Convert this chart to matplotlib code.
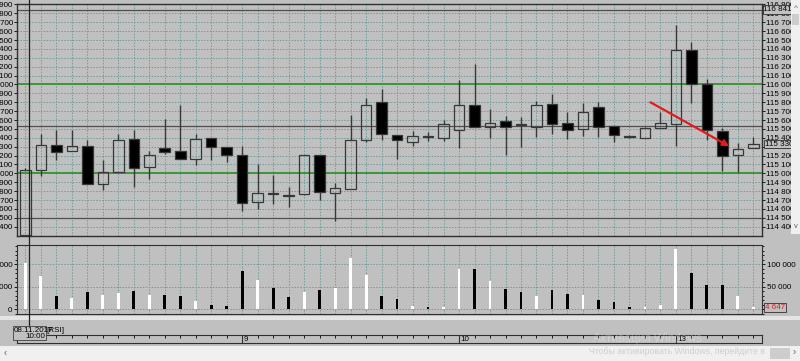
import numpy as np
import matplotlib
matplotlib.use("Agg")
import matplotlib.pyplot as plt
from matplotlib.patches import Rectangle
from matplotlib.ticker import MultipleLocator, FuncFormatter

# hourly candles 08.11.2017 - 13.11.2017, 10:00..23:00
day_labels = ["9", "10", "13"]
day_start = [14, 28, 42]

opens = [114310, 115040, 115320, 115250, 115305, 114875, 115020, 115385, 115075, 115285,
         115255, 115165, 115395, 115295, 115210, 114675, 114780, 114760, 114765, 115210,
         114775, 114820, 115380, 115805, 115435, 115355, 115420, 115395, 115490, 115765,
         115525, 115590, 115550, 115525, 115780, 115570, 115500, 115745, 115535, 115420,
         115400, 115510, 115555, 116390, 116000, 115480, 115210, 115290]
highs = [115060, 115440, 115490, 115490, 115375, 115145, 115440, 115490, 115255, 115615,
         115765, 115440, 115395, 115295, 115310, 115110, 114980, 114845, 115210, 115210,
         114890, 115655, 115850, 115950, 115435, 115480, 115470, 115600, 116045, 116235,
         115720, 115645, 115635, 115815, 115890, 115695, 115795, 115805, 115535, 115430,
         115525, 115685, 116670, 116475, 116065, 115510, 115340, 115405]
lows = [114300, 114970, 115155, 115250, 114875, 114810, 115020, 114850, 114940, 115220,
        115165, 115095, 115155, 115125, 114580, 114595, 114655, 114625, 114760, 114705,
        114465, 114820, 115355, 115370, 115165, 115305, 115360, 115360, 115285, 115525,
        115395, 115210, 115300, 115405, 115445, 115385, 115425, 115405, 115350, 115400,
        115400, 115510, 115310, 115795, 115370, 115025, 115015, 115290]
closes = [115040, 115320, 115245, 115305, 114875, 115020, 115375, 115065, 115210, 115245,
          115165, 115385, 115300, 115210, 114670, 114775, 114770, 114750, 115210, 114790,
          114830, 115370, 115770, 115445, 115370, 115415, 115410, 115555, 115765, 115525,
          115570, 115525, 115540, 115765, 115555, 115490, 115690, 115525, 115435, 115405,
          115510, 115570, 116385, 116005, 115485, 115195, 115275, 115330]
volumes = [103000, 74700, 28400, 24700, 37400, 30600, 35900, 41100, 32100, 30600,
           29100, 17900, 9700, 7500, 84400, 64300, 46300, 26900, 37400, 42600,
           46300, 114300, 76900, 29900, 21700, 8200, 6000, 5200, 88200, 88200,
           63500, 45600, 38900, 29900, 42600, 34400, 32100, 20200, 15300, 6000,
           4500, 9700, 133000, 79200, 54600, 54600, 28400, 4647]

green_levels = [116000, 115000]
gray_levels = [116841, 115530, 114500]
arrow_from = (40.2, 115815)
arrow_to = (45.6, 115290)

BG = "#c0c0c0"
GRID = "#6f9c9c"
EDGE = "#383838"
plt.rcParams["font.family"] = ["Liberation Sans", "DejaVu Sans"]
FS = 5.8

W, H = 800, 361
fig = plt.figure(figsize=(8, 3.61), dpi=100, facecolor=BG)


def box(x0, y0, x1, y1):
    # pixel box (top-left origin) -> figure fraction
    return [x0 / W, 1 - y1 / H, (x1 - x0) / W, (y1 - y0) / H]


ax = fig.add_axes(box(17, 3.7, 762, 236))
ax2 = fig.add_axes(box(17, 244.7, 762, 314))
ax3 = fig.add_axes(box(17, 335, 762, 343.3))

x = np.arange(len(opens))
o = np.array(opens)
c = np.array(closes)
up = c >= o
xlim = (-0.54, 47.56)
fmt = FuncFormatter(lambda v, p: f"{int(v):,}".replace(",", " "))

# ---- price panel
ax.set_facecolor(BG)
ax.set_xlim(*xlim)
ax.set_ylim(114295, 116909)
ax.set_xticks(x)
ax.set_yticks(np.arange(114400, 116901, 100))
ax.yaxis.set_major_formatter(fmt)
ax.tick_params(axis="x", length=0, labelbottom=False)
ax.tick_params(axis="y", left=True, right=True, labelleft=True, labelright=True,
               length=2, width=0.6, pad=1, labelsize=FS, colors="black")
ax.grid(True, ls=(0, (1.5, 1.5)), color=GRID, lw=0.7)
ax.set_axisbelow(True)
for s in ax.spines.values():
    s.set_color("#303030")
    s.set_linewidth(1)

for lv in green_levels:
    ax.axhline(lv, color="#3a963a", lw=1.4, zorder=2)
for lv in gray_levels:
    ax.axhline(lv, color="#505050", lw=0.9, zorder=2)

body_top = np.maximum(o, c)
body_bot = np.minimum(o, c)
ax.vlines(x, body_top, highs, color=EDGE, lw=1, zorder=3)
ax.vlines(x, lows, body_bot, color=EDGE, lw=1, zorder=3)
ax.bar(x, body_top - body_bot, bottom=body_bot, width=0.68,
       color=["none" if u else "black" for u in up], edgecolor=EDGE, lw=0.9, zorder=4)

ax.annotate("", xy=arrow_to, xytext=arrow_from,
            arrowprops=dict(arrowstyle="-|>", color="#e41b1b", lw=1.6, mutation_scale=9),
            zorder=6)

lbl_box = dict(boxstyle="square,pad=0.12", fc=BG, ec="#303030", lw=0.6)
ax.text(1.002, gray_levels[0], fmt(gray_levels[0], 0), transform=ax.get_yaxis_transform(),
        fontsize=FS, va="center", ha="left", bbox=lbl_box, clip_on=False, zorder=7)
ax.text(1.004, closes[-1], fmt(closes[-1], 0), transform=ax.get_yaxis_transform(),
        fontsize=FS, va="center", ha="left", bbox=lbl_box, clip_on=False, zorder=7)

# ---- volume panel
ax2.set_facecolor(BG)
ax2.set_xlim(*xlim)
ax2.set_ylim(-10400, 142900)
ax2.set_xticks(x)
ax2.set_yticks([0, 50000, 100000])
ax2.yaxis.set_minor_locator(MultipleLocator(10000))
ax2.yaxis.set_major_formatter(fmt)
ax2.tick_params(axis="x", length=0, labelbottom=False)
ax2.tick_params(axis="y", which="both", left=True, right=True, labelleft=True, labelright=True,
                width=0.6, pad=1, labelsize=FS)
ax2.tick_params(axis="y", which="major", length=2.5)
ax2.tick_params(axis="y", which="minor", length=1.5)
ax2.grid(True, ls=(0, (1.5, 1.5)), color=GRID, lw=0.7)
ax2.set_axisbelow(True)
for s in ax2.spines.values():
    s.set_color("#303030")
ax2.bar(x, volumes, width=0.18, color=["white" if u else "black" for u in up], zorder=3)
fig.canvas.draw()
ax2.yaxis.get_major_ticks()[0].label2.set_visible(False)
ax2.text(1.004, volumes[-1], fmt(volumes[-1], 0), transform=ax2.get_yaxis_transform(),
         fontsize=FS, color="#e02020", va="center", ha="left", bbox=lbl_box, clip_on=False)

# ---- time axis
ax3.set_facecolor(BG)
ax3.set_xlim(*xlim)
ax3.set_ylim(0, 1)
ax3.set_yticks([])
ax3.set_xticks(x)
ax3.tick_params(axis="x", top=True, bottom=False, labelbottom=False, direction="in",
                length=2.2, width=0.6)
for s in ax3.spines.values():
    s.set_color("#303030")
for d, lab in zip(day_start, day_labels):
    ax3.axvline(d, color="#303030", lw=0.8)
    ax3.text(d + 0.12, 0.45, lab, fontsize=FS, va="center", ha="left")

# crosshair
cx = 0.26
ax.axvline(cx, color="#202020", lw=0.9, ymax=1.02, clip_on=False, zorder=5)
ax2.axvline(cx, color="#202020", lw=0.9, ymin=-0.17, ymax=1.13, clip_on=False, zorder=5)

fig.patches.append(Rectangle((12.7 / W, 1 - 340 / H), 33.3 / W, 14 / H, transform=fig.transFigure,
                             fc=BG, ec="#404040", lw=0.6, zorder=5))
fig.text(13.5 / W, 1 - 330 / H, "08.11.2017", fontsize=FS, va="center", zorder=6)
fig.text(45.5 / W, 1 - 337 / H, "10:00", fontsize=FS, va="center", ha="right", zorder=6)
fig.text(46.5 / W, 1 - 330 / H, "[RSI]", fontsize=FS, va="center", zorder=6)

# separators / scrollbars
fig.patches.append(Rectangle((0, 1 - 319.5 / H), 1, 3.5 / H, transform=fig.transFigure,
                             fc="#e4e4e4", ec="none", zorder=-1))
fig.patches.append(Rectangle((0, 0), 1, 15.5 / H, transform=fig.transFigure,
                             fc="#f0f0f0", ec="none", zorder=1))
fig.patches.append(Rectangle((770 / W, 2 / H), 20 / W, 11 / H, transform=fig.transFigure,
                             fc="#cdcdcd", ec="none", zorder=2))
fig.patches.append(Rectangle((791 / W, 1 - 234 / H), 9 / W, 234 / H, transform=fig.transFigure,
                             fc="#f0f0f0", ec="none", zorder=1))
fig.patches.append(Rectangle((792 / W, 1 - 25 / H), 7 / W, 11 / H, transform=fig.transFigure,
                             fc="#cdcdcd", ec="none", zorder=2))
fig.text(5 / W, 1 - 353 / H, "‹", fontsize=7, color="#606060", va="center", ha="center", zorder=3)
fig.text(794 / W, 1 - 352 / H, "›", fontsize=7, color="#606060", va="center", ha="center", zorder=3)
fig.text(795.5 / W, 1 - 9 / H, "^", fontsize=6, color="#606060", va="center", ha="center", zorder=3)
fig.text(795.5 / W, 1 - 227 / H, "v", fontsize=5.5, color="#606060", va="center", ha="center", zorder=3)

# windows watermark
fig.text(593 / W, 1 - 339 / H, "Активация Windows", fontsize=8.5, color="white", alpha=0.3,
         va="center", zorder=8)
fig.text(589 / W, 1 - 352 / H, "Чтобы активировать Windows, перейдите в", fontsize=6.3,
         color="#909090", alpha=0.35, va="center", zorder=8)

fig.savefig("out.png", dpi=100, facecolor=BG)
